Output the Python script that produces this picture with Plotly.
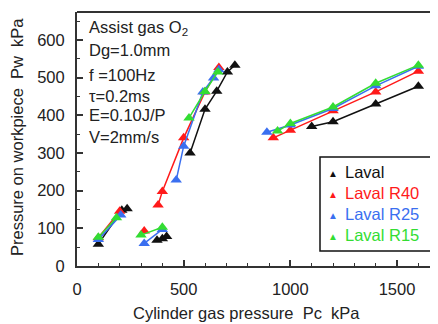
import plotly.graph_objects as go

# ---- data (None separates measurement groups) ----
laval_x = [100, 210, 235, None, 375, 400, 420, None, 530, 600, 655, 705, 740, None, 1100, 1200, 1400, 1600]
laval_y = [58, 148, 152, None, 68, 72, 78, None, 300, 416, 464, 515, 533, None, 370, 383, 430, 477]

r40_x = [100, 200, None, 315, None, 380, 400, 500, 600, 665, None, 920, 1000, 1200, 1400, 1600]
r40_y = [75, 145, None, 93, None, 162, 198, 340, 462, 527, None, 340, 360, 412, 462, 517]

r25_x = [100, 205, None, 315, 400, None, 465, 500, 590, 640, 665, None, 890, 1000, 1200, 1400, 1600]
r25_y = [70, 135, None, 60, 97, None, 228, 318, 462, 499, 521, None, 355, 374, 418, 478, 530]

r15_x = [100, 185, None, 300, 400, None, 525, 600, 660, None, 940, 1000, 1200, 1400, 1600]
r15_y = [76, 128, None, 82, 103, None, 393, 463, 515, None, 358, 378, 422, 485, 533]

series_names = ["Laval", "Laval R40", "Laval R25", "Laval R15"]
series_colors = ["#111111", "#ff1a1a", "#3a6ff0", "#33dd33"]

info_lines = ["Assist gas O<sub>2</sub>", "Dg=1.0mm", "f =100Hz", "τ=0.2ms", "E=0.10J/P", "V=2mm/s"]
info_py = [28, 50, 75, 96, 115, 137]   # page pixel centres

xticks = [0, 500, 1000, 1500]
yticks = [0, 100, 200, 300, 400, 500, 600]

# ---- layout geometry (figure pixels; page has an 8px body margin) ----
OFF = 8
W, H = 438 - OFF, 324 - OFF
L, T = 77 - OFF, 12 - OFF
B = H - (266 - OFF)
plot_w = W - L
plot_h = H - T - B
FONT = "Liberation Sans, Arial, sans-serif"
TXT = "#222222"
FS = 16.5


def px(page_x):
    return (page_x - OFF - L) / plot_w


def py(page_y):
    return (H - B - (page_y - OFF)) / plot_h


fig = go.Figure()
data = [(laval_x, laval_y), (r40_x, r40_y), (r25_x, r25_y), (r15_x, r15_y)]
for (xs, ys), name, col in zip(data, series_names, series_colors):
    fig.add_trace(go.Scatter(
        x=xs, y=ys, mode="lines+markers", name=name, showlegend=False,
        line=dict(color=col, width=1.5),
        marker=dict(symbol="triangle-up", size=10, color=col),
        connectgaps=False,
    ))

annotations = []
for txt, y in zip(info_lines, info_py):
    annotations.append(dict(
        text=txt, xref="paper", yref="paper", x=px(87), y=py(y),
        xanchor="left", yanchor="middle", showarrow=False,
        font=dict(family=FONT, size=FS, color=TXT),
    ))
annotations.append(dict(
    text="Cylinder gas pressure  Pc  kPa", xref="paper", yref="paper",
    x=px(246), y=py(313), xanchor="center", yanchor="middle",
    showarrow=False, font=dict(family=FONT, size=FS, color=TXT),
))
annotations.append(dict(
    text="Pressure on workpiece  Pw  kPa", xref="paper", yref="paper",
    x=px(17), y=py(137), xanchor="center", yanchor="middle",
    textangle=-90, showarrow=False, font=dict(family=FONT, size=FS, color=TXT),
))

# manual legend (marker glyph + coloured label)
legend_y = [172, 193, 214, 235]
for name, col, y in zip(series_names, series_colors, legend_y):
    annotations.append(dict(
        text="▲", xref="paper", yref="paper", x=px(333), y=py(y + 1),
        xanchor="center", yanchor="middle", showarrow=False,
        font=dict(family=FONT, size=10, color=col),
    ))
    annotations.append(dict(
        text=name, xref="paper", yref="paper", x=px(343), y=py(y),
        xanchor="left", yanchor="middle", showarrow=False,
        font=dict(family=FONT, size=FS, color=col),
    ))

shapes = [
    dict(type="line", xref="paper", yref="paper", x0=0, x1=1, y0=1, y1=1,
         line=dict(color="#333333", width=2)),
    dict(type="rect", xref="paper", yref="paper", x0=px(320), x1=px(431),
         y0=py(251), y1=py(157), fillcolor="white",
         line=dict(color="#111111", width=1.5), layer="above"),
]

fig.update_layout(
    width=W, height=H,
    margin=dict(l=L, r=0, t=T, b=B, pad=0, autoexpand=False),
    paper_bgcolor="white", plot_bgcolor="white",
    font=dict(family=FONT, size=FS, color=TXT),
    showlegend=False,
    annotations=annotations,
    shapes=shapes,
)
fig.update_xaxes(
    range=[0, 1692], tickvals=xticks, showgrid=False, zeroline=False,
    showline=True, linecolor="#333333", linewidth=2,
    ticks="inside", ticklen=6, tickwidth=1.5, tickcolor="#333333",
    minor=dict(dtick=100, ticks="inside", ticklen=3, tickwidth=1.2, tickcolor="#333333"),
    tickfont=dict(family=FONT, size=FS, color=TXT), ticklabelstandoff=7,
    automargin=False,
)
fig.update_yaxes(
    range=[0, 674], tickvals=yticks, showgrid=False, zeroline=False,
    showline=True, linecolor="#333333", linewidth=2,
    ticks="inside", ticklen=6, tickwidth=1.5, tickcolor="#333333",
    minor=dict(dtick=50, ticks="inside", ticklen=3, tickwidth=1.2, tickcolor="#333333"),
    tickfont=dict(family=FONT, size=FS, color=TXT), ticklabelstandoff=7,
    automargin=False,
)

fig.write_html("out.html")
